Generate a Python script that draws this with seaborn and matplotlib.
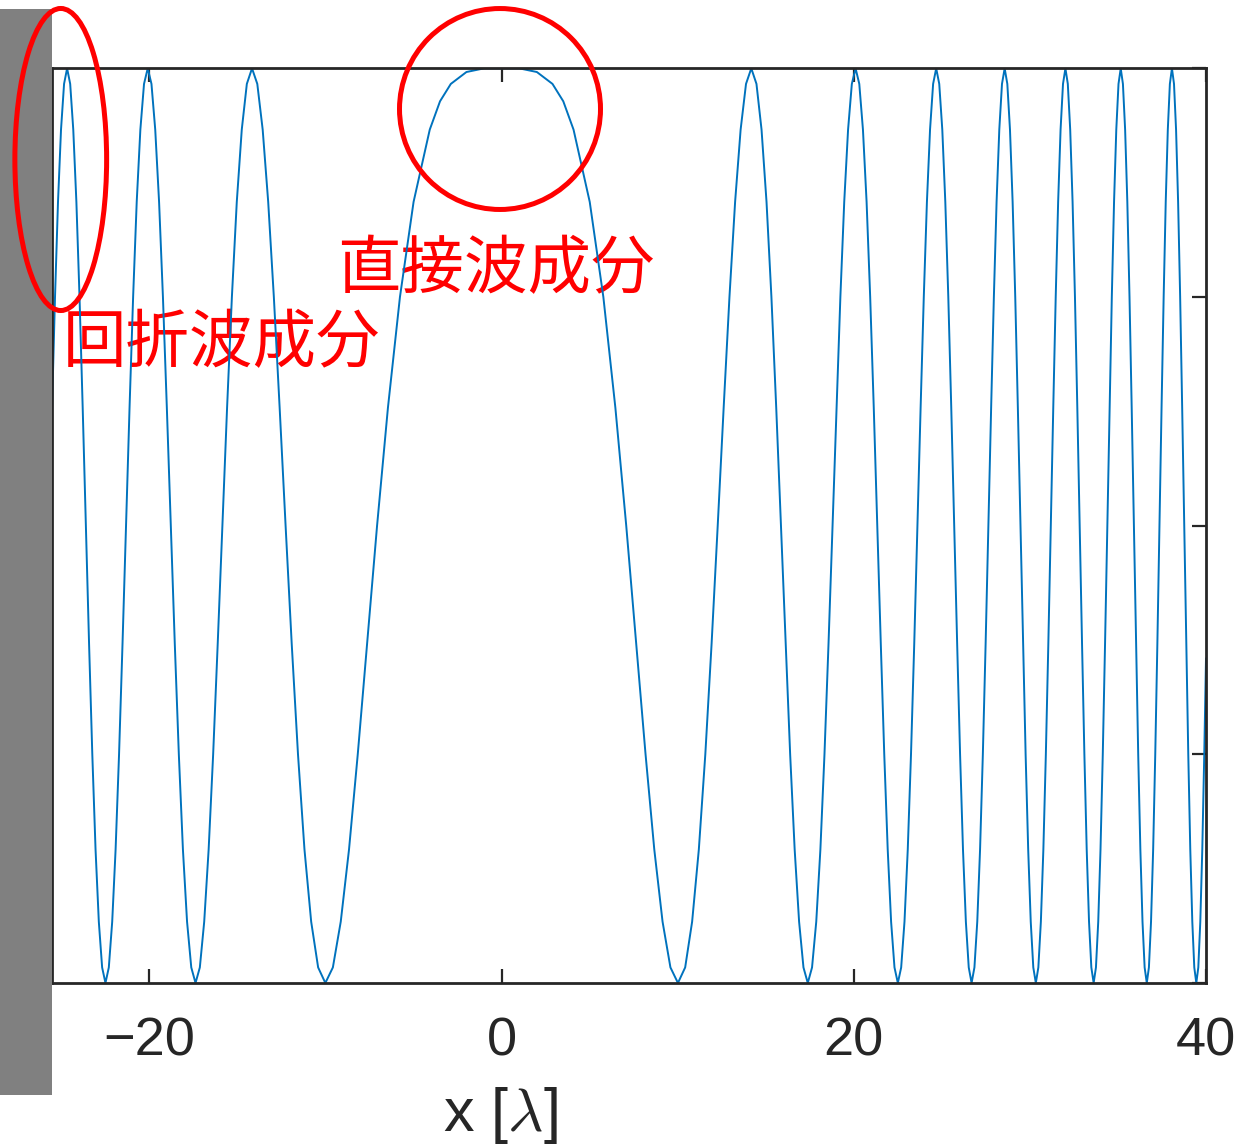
import numpy as np
import pandas as pd
import seaborn as sns
import matplotlib.pyplot as plt
from matplotlib.patches import Ellipse, Rectangle

# position x [lambda] and normalised intensity
x_lambda = [
    -25.55, -25.533, -25.365, -25.195, -25.024, -24.851, -24.678, -24.503, -24.328, -24.151,
    -23.973, -23.793, -23.613, -23.431, -23.247, -23.063, -22.877, -22.689, -22.500, -22.309,
    -22.117, -21.924, -21.728, -21.531, -21.332, -21.132, -20.929, -20.725, -20.518, -20.310,
    -20.100, -19.887, -19.673, -19.455, -19.236, -19.014, -18.790, -18.563, -18.333, -18.101,
    -17.866, -17.627, -17.385, -17.140, -16.892, -16.640, -16.384, -16.125, -15.861, -15.593,
    -15.320, -15.042, -14.759, -14.471, -14.177, -13.877, -13.571, -13.258, -12.937, -12.608,
    -12.270, -11.923, -11.566, -11.198, -10.817, -10.422, -10.012, -9.585, -9.138, -8.668,
    -8.172, -7.643, -7.075, -6.458, -5.776, -5.002, -4.083, -3.5, -2.887, -2.0,
    -1.0, 0.0, 1.0,
    2.0, 2.887, 3.5, 4.083, 5.002, 5.776, 6.458, 7.075, 7.643, 8.172,
    8.668, 9.138, 9.585, 10.012, 10.422, 10.817, 11.198, 11.566, 11.923, 12.270,
    12.608, 12.937, 13.258, 13.571, 13.877, 14.177, 14.471, 14.759, 15.042, 15.320,
    15.593, 15.861, 16.125, 16.384, 16.640, 16.892, 17.140, 17.385, 17.627, 17.866,
    18.101, 18.333, 18.563, 18.790, 19.014, 19.236, 19.455, 19.673, 19.887, 20.100,
    20.310, 20.518, 20.725, 20.929, 21.132, 21.332, 21.531, 21.728, 21.924, 22.117,
    22.309, 22.500, 22.689, 22.877, 23.063, 23.247, 23.431, 23.613, 23.793, 23.973,
    24.151, 24.328, 24.503, 24.678, 24.851, 25.024, 25.195, 25.365, 25.533, 25.701,
    25.868, 26.034, 26.199, 26.363, 26.526, 26.688, 26.849, 27.010, 27.169, 27.327,
    27.485, 27.642, 27.798, 27.953, 28.107, 28.261, 28.414, 28.566, 28.717, 28.868,
    29.018, 29.167, 29.315, 29.463, 29.610, 29.756, 29.902, 30.047, 30.192, 30.336,
    30.479, 30.622, 30.764, 30.905, 31.046, 31.186, 31.326, 31.465, 31.603, 31.741,
    31.879, 32.016, 32.152, 32.288, 32.423, 32.558, 32.692, 32.826, 32.960, 33.093,
    33.225, 33.357, 33.488, 33.619, 33.750, 33.880, 34.009, 34.138, 34.267, 34.396,
    34.524, 34.651, 34.778, 34.905, 35.031, 35.157, 35.282, 35.407, 35.532, 35.656,
    35.780, 35.904, 36.027, 36.150, 36.272, 36.394, 36.515, 36.637, 36.758, 36.878,
    36.999, 37.118, 37.238, 37.357, 37.476, 37.595, 37.713, 37.831, 37.948, 38.066,
    38.183, 38.300, 38.416, 38.532, 38.647, 38.763, 38.878, 38.993, 39.107, 39.222,
    39.335, 39.449, 39.563, 39.676, 39.789, 39.901, 40.0,
]
intensity = [
    0.618, 0.629, 0.75, 0.854, 0.933, 0.983, 1.0, 0.983, 0.933, 0.854,
    0.75, 0.629, 0.5, 0.371, 0.25, 0.146, 0.067, 0.017, 0.0, 0.017,
    0.067, 0.146, 0.25, 0.371, 0.5, 0.629, 0.75, 0.854, 0.933, 0.983,
    1.0, 0.983, 0.933, 0.854, 0.75, 0.629, 0.5, 0.371, 0.25, 0.146,
    0.067, 0.017, 0.0, 0.017, 0.067, 0.146, 0.25, 0.371, 0.5, 0.629,
    0.75, 0.854, 0.933, 0.983, 1.0, 0.983, 0.933, 0.854, 0.75, 0.629,
    0.5, 0.371, 0.25, 0.146, 0.067, 0.017, 0.0, 0.017, 0.067, 0.146,
    0.25, 0.371, 0.5, 0.629, 0.75, 0.854, 0.933, 0.964, 0.983, 0.996,
    1.0, 1.0, 1.0,
    0.996, 0.983, 0.964, 0.933, 0.854, 0.75, 0.629, 0.5, 0.371, 0.25,
    0.146, 0.067, 0.017, 0.0, 0.017, 0.067, 0.146, 0.25, 0.371, 0.5,
    0.629, 0.75, 0.854, 0.933, 0.983, 1.0, 0.983, 0.933, 0.854, 0.75,
    0.629, 0.5, 0.371, 0.25, 0.146, 0.067, 0.017, 0.0, 0.017, 0.067,
    0.146, 0.25, 0.371, 0.5, 0.629, 0.75, 0.854, 0.933, 0.983, 1.0,
    0.983, 0.933, 0.854, 0.75, 0.629, 0.5, 0.371, 0.25, 0.146, 0.067,
    0.017, 0.0, 0.017, 0.067, 0.146, 0.25, 0.371, 0.5, 0.629, 0.75,
    0.854, 0.933, 0.983, 1.0, 0.983, 0.933, 0.854, 0.75, 0.629, 0.5,
    0.371, 0.25, 0.146, 0.067, 0.017, 0.0, 0.017, 0.067, 0.146, 0.25,
    0.371, 0.5, 0.629, 0.75, 0.854, 0.933, 0.983, 1.0, 0.983, 0.933,
    0.854, 0.75, 0.629, 0.5, 0.371, 0.25, 0.146, 0.067, 0.017, 0.0,
    0.017, 0.067, 0.146, 0.25, 0.371, 0.5, 0.629, 0.75, 0.854, 0.933,
    0.983, 1.0, 0.983, 0.933, 0.854, 0.75, 0.629, 0.5, 0.371, 0.25,
    0.146, 0.067, 0.017, 0.0, 0.017, 0.067, 0.146, 0.25, 0.371, 0.5,
    0.629, 0.75, 0.854, 0.933, 0.983, 1.0, 0.983, 0.933, 0.854, 0.75,
    0.629, 0.5, 0.371, 0.25, 0.146, 0.067, 0.017, 0.0, 0.017, 0.067,
    0.146, 0.25, 0.371, 0.5, 0.629, 0.75, 0.854, 0.933, 0.983, 1.0,
    0.983, 0.933, 0.854, 0.75, 0.629, 0.5, 0.371, 0.25, 0.146, 0.067,
    0.017, 0.0, 0.017, 0.067, 0.146, 0.25, 0.355,
]

x_ticks = [-20, 0, 20, 40]
x_tick_labels = ["\u221220", "0", "20", "40"]
y_ticks = [0, 0.25, 0.5, 0.75, 1.0]

df = pd.DataFrame({"x": x_lambda, "I": intensity})

sns.set_style("ticks")
plt.rcParams["font.family"] = ["Liberation Sans", "Noto Sans CJK JP", "DejaVu Sans"]
plt.rcParams["mathtext.fontset"] = "cm"

fig = plt.figure(figsize=(12.5, 11.45), dpi=100)
ax = fig.add_axes([0.0414, 0.1415, 0.9234, 0.7988])

sns.lineplot(data=df, x="x", y="I", ax=ax, color="#0072BD", linewidth=1.4,
             estimator=None, sort=False, zorder=2)

ax.set_xlim(-25.55, 40)
ax.set_ylim(0, 1)
ax.set_xticks(x_ticks)
ax.set_xticklabels(x_tick_labels)
ax.set_yticks(y_ticks)
ax.set_yticklabels([])
ax.tick_params(direction="in", top=True, right=True, left=False, bottom=True,
               length=10, width=1.6, colors="#262626", labelsize=39, pad=24)
for s in ax.spines.values():
    s.set_visible(True)
    s.set_linewidth(2)
    s.set_color("#262626")

ax.set_xlabel("x [$\\lambda$]", fontsize=44, color="#262626")
ax.xaxis.label.set_verticalalignment("baseline")
ax.xaxis.set_label_coords(0.4, 1 - 1131 / 1145, transform=fig.transFigure)
ax.set_ylabel("")

# annotations
ax.text(-9.32, 0.779, "直接波成分", color="red", fontsize=45.7, ha="left", va="center",
        zorder=1, family=["Noto Sans CJK JP", "DejaVu Sans"])
ax.text(-24.94, 0.698, "回折波成分", color="red", fontsize=45.7, ha="left", va="center",
        zorder=1, family=["Noto Sans CJK JP", "DejaVu Sans"])

# gray wall on the left
fig.add_artist(Rectangle((0, 0.0437), 52 / 1250, 0.9485, transform=fig.transFigure,
                         facecolor="#808080", edgecolor="none", zorder=5))

# red marks
fig.add_artist(Ellipse((0.4, 0.9048), 0.1608, 0.1755, transform=fig.transFigure,
                       fill=False, edgecolor="red", linewidth=3.6, zorder=6))
fig.add_artist(Ellipse((0.0486, 0.8607), 0.0734, 0.2638, transform=fig.transFigure,
                       fill=False, edgecolor="red", linewidth=3.6, zorder=6))

fig.savefig("out.png", dpi=100)
